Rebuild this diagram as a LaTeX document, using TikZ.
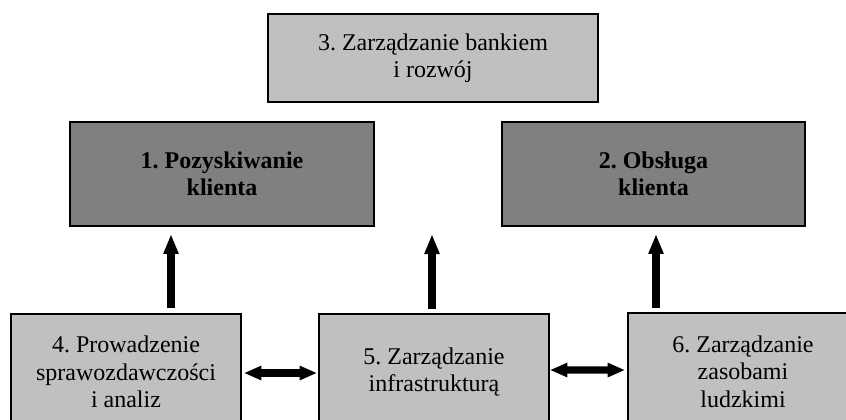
\documentclass[tikz,border=0pt]{standalone}
\usepackage{fontspec}
\setmainfont{Liberation Serif}
\usetikzlibrary{arrows.meta}
\definecolor{lightbox}{HTML}{C0C0C0}
\definecolor{darkbox}{HTML}{808080}
\frenchspacing
\begin{document}
\begin{tikzpicture}[x=0.75pt,y=-0.75pt,
  boxbase/.style={draw=black,line width=1.4pt,rectangle,align=center,inner sep=0pt,
    font=\fontsize{18}{20.5}\selectfont},
  lightnode/.style={boxbase,fill=lightbox},
  darknode/.style={boxbase,fill=darkbox,font=\fontsize{18}{20.5}\selectfont\bfseries},
  bigarrow/.style={line width=6pt,-{Triangle[length=15pt,width=10.5pt]}},
  dblarrow/.style={line width=5.5pt,{Triangle[length=13pt,width=10pt]}-{Triangle[length=13pt,width=10pt]}}
]
\useasboundingbox (0,0) rectangle (846,419);
\clip (0,0) rectangle (846,419);
\node[lightnode,minimum width=247.5pt,minimum height=66pt] (b3) at (433,58) {3. Zarządzanie bankiem\\i rozwój};
\node[darknode,minimum width=228pt,minimum height=78pt] (b1) at (222,174) {1. Pozyskiwanie\\klienta};
\node[darknode,minimum width=227pt,minimum height=78pt] (b2) at (653.5,174) {2. Obsługa\\klienta};
\node[lightnode,minimum width=172.5pt,minimum height=87pt] (b4) at (126,372) {4. Prowadzenie\\sprawozdawczości\\i analiz};
\node[lightnode,minimum width=172.5pt,minimum height=87pt] (b5) at (434,372) {5. Zarządzanie\\infrastrukturą};
\node[lightnode,minimum width=172.5pt,minimum height=87.75pt] (b6) at (743,371.5) {6. Zarządzanie\\zasobami\\ludzkimi};
\coordinate (mid) at (432,234);
\draw[bigarrow,shorten <=3.75pt,shorten >=5.25pt] ([xshift=33.75pt]b4.north) -- ([xshift=-38.25pt]b1.south);
\draw[bigarrow,shorten <=3pt] ([xshift=-1.5pt]b5.north) -- (mid);
\draw[bigarrow,shorten <=3pt,shorten >=5.25pt] ([xshift=-65.25pt]b6.north) -- ([xshift=1.875pt]b2.south);
\draw[dblarrow,shorten <=1.5pt,shorten >=0.75pt] ([yshift=-0.75pt]b4.east) -- ([yshift=-0.75pt]b5.west);
\draw[dblarrow,shorten >=1.5pt] ([yshift=1.5pt]b5.east) -- ([yshift=1.1pt]b6.west);
\end{tikzpicture}
\end{document}
